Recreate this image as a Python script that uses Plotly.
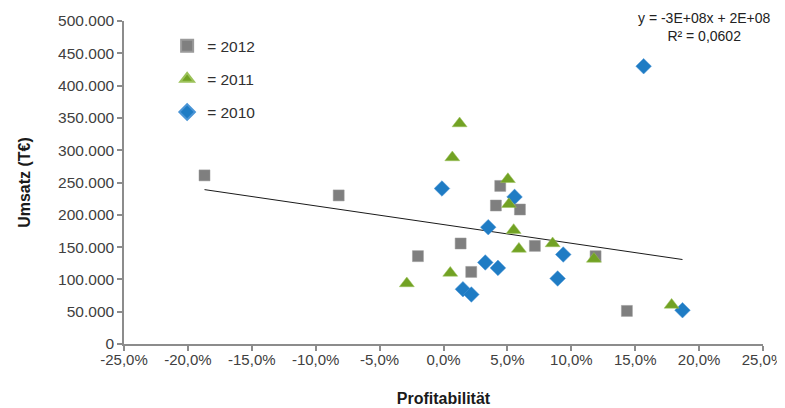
import numpy as np
import plotly.graph_objects as go

# Profitabilität (fraction) and Umsatz (T€) per year
x_2012 = [-0.187, -0.082, -0.020, 0.0134, 0.0217, 0.0444, 0.041, 0.0598, 0.0715, 0.119, 0.1435]
y_2012 = [261000, 230000, 136000, 155600, 111600, 244700, 214400, 208200, 151900, 135900, 51200]

x_2011 = [-0.0287, 0.0053, 0.0069, 0.0126, 0.0504, 0.0512, 0.0549, 0.059, 0.0854, 0.1177, 0.1785]
y_2011 = [93700, 110000, 288700, 341300, 255000, 216400, 176200, 147200, 155600, 131700, 60500]

x_2010 = [-0.0012, 0.035, 0.0327, 0.0426, 0.0152, 0.0218, 0.0556, 0.0937, 0.0893, 0.1566, 0.187]
y_2010 = [240700, 180800, 126200, 117800, 84800, 76600, 227700, 138500, 101400, 430000, 52300]

x_ticks = [-0.25, -0.20, -0.15, -0.10, -0.05, 0.0, 0.05, 0.10, 0.15, 0.20, 0.25]
x_ticklabels = ["-25,0%", "-20,0%", "-15,0%", "-10,0%", "-5,0%", "0,0%", "5,0%", "10,0%", "15,0%", "20,0%", "25,0%"]
y_ticks = [0, 50000, 100000, 150000, 200000, 250000, 300000, 350000, 400000, 450000, 500000]
y_ticklabels = ["0", "50.000", "100.000", "150.000", "200.000", "250.000", "300.000", "350.000", "400.000", "450.000", "500.000"]

trend_text = "y = -3E+08x + 2E+08<br>R² = 0,0602"

all_x = np.array(x_2012 + x_2011 + x_2010)
all_y = np.array(y_2012 + y_2011 + y_2010)
slope, intercept = np.polyfit(all_x, all_y, 1)
tx = np.array([all_x.min(), all_x.max()])
ty = slope * tx + intercept

FONT = "Liberation Sans, Arial, sans-serif"

fig = go.Figure()
fig.add_trace(go.Scatter(x=tx, y=ty, mode="lines", line=dict(color="#1a1a1a", width=1),
                         showlegend=False, hoverinfo="skip"))
fig.add_trace(go.Scatter(x=x_2010, y=y_2010, mode="markers", name="= 2010", legendrank=3,
                         legendgroup="c",
                         marker=dict(symbol="diamond", size=12, color="#1f7cc4",
                                     line=dict(color="#4a95d6", width=0.5))))
fig.add_trace(go.Scatter(x=x_2012, y=y_2012, mode="markers", name="= 2012", legendrank=1,
                         legendgroup="a",
                         marker=dict(symbol="square", size=11, color="#7f7f7f",
                                     line=dict(color="#9a9a9a", width=0.5))))
fig.add_trace(go.Scatter(x=x_2011, y=y_2011, mode="markers", name="= 2011", legendrank=2,
                         legendgroup="b",
                         marker=dict(symbol="triangle-up", size=13, color="#72a224",
                                     line=dict(color="#9cc25a", width=0.5))))

fig.add_annotation(text=trend_text, xref="paper", yref="paper", x=0.9077, y=1.04,
                   xanchor="center", yanchor="top", showarrow=False, align="center",
                   font=dict(family=FONT, size=14, color="#222222"))

fig.update_layout(
    width=777, height=400,
    margin=dict(l=116, r=22, t=13, b=64),
    paper_bgcolor="white", plot_bgcolor="white",
    font=dict(family=FONT, size=15, color="#404040"),
    legend=dict(x=0.0675, y=0.975, xanchor="left", yanchor="top",
                bgcolor="rgba(0,0,0,0)", font=dict(family=FONT, size=15.5, color="#303030"),
                tracegroupgap=10, itemsizing="constant"),
    xaxis=dict(range=[-0.25, 0.25], tickvals=x_ticks, ticktext=x_ticklabels,
               automargin=False, ticklabeloverflow="allow", ticklabelstandoff=-4,
               showgrid=False, zeroline=False, showline=True, linecolor="#8c8c8c", linewidth=1.5,
               ticks="outside", ticklen=5, tickcolor="#8c8c8c", tickwidth=1.5,
               tickfont=dict(family=FONT, size=15, color="#404040"),
               title=dict(text="<b>Profitabilität</b>", standoff=26,
                          font=dict(family=FONT, size=16, color="#1a1a1a"))),
    yaxis=dict(range=[0, 500000], tickvals=y_ticks, ticktext=y_ticklabels,
               automargin=False,
               showgrid=False, zeroline=False, showline=True, linecolor="#8c8c8c", linewidth=1.5,
               ticks="outside", ticklen=5, tickcolor="#8c8c8c", tickwidth=1.5,
               tickfont=dict(family=FONT, size=15.5, color="#404040"),
               title=dict(text="<b>Umsatz (T€)</b>", standoff=24,
                          font=dict(family=FONT, size=16, color="#1a1a1a"))),
)

fig.write_html("out.html")
